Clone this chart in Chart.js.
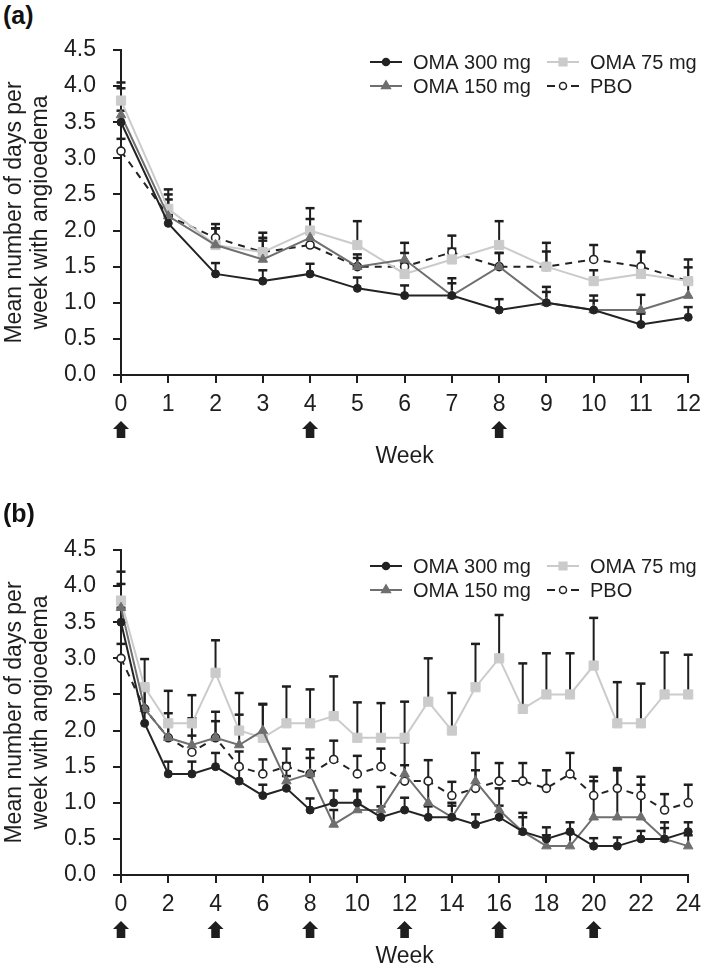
<!DOCTYPE html>
<html>
<head>
<meta charset="utf-8">
<script src="https://cdn.jsdelivr.net/npm/chart.js@4/dist/chart.umd.min.js"></script>
<style>
  html, body { margin: 0; padding: 0; background: #fff; overflow: hidden; }
  .panel { position: absolute; left: 0; }
  .tag { position: absolute; left: 3px; font: bold 25px "Liberation Sans", Arial, sans-serif; color: #111; line-height: 1; }
</style>
</head>
<body>
<div class="tag" style="top: 3px;">(a)</div>
<canvas id="chartA" class="panel" width="709" height="500" style="top: 0;"></canvas>
<div class="tag" style="top: 501px;">(b)</div>
<canvas id="chartB" class="panel" width="709" height="500" style="top: 500px;"></canvas>

<script>
// ---- dati ----
const seriesNames = ['OMA 300 mg', 'OMA 150 mg', 'OMA 75 mg', 'PBO'];

// pannello (a): settimane 0-12
const weeksA = [0, 1, 2, 3, 4, 5, 6, 7, 8, 9, 10, 11, 12];
const oma300A = [3.5, 2.1, 1.4, 1.3, 1.4, 1.2, 1.1, 1.1, 0.9, 1.0, 0.9, 0.7, 0.8];
const oma150A = [3.6, 2.2, 1.8, 1.6, 1.9, 1.5, 1.6, 1.1, 1.5, 1.0, 0.9, 0.9, 1.1];
const oma75A  = [3.8, 2.3, 1.8, 1.7, 2.0, 1.8, 1.4, 1.6, 1.8, 1.5, 1.3, 1.4, 1.3];
const pboA    = [3.1, 2.2, 1.9, 1.7, 1.8, 1.5, 1.5, 1.7, 1.5, 1.5, 1.6, 1.5, 1.3];
// estremo superiore delle barre di errore
const oma300UpA = [3.66, 2.23, 1.55, 1.45, 1.54, 1.35, 1.24, 1.27, 1.05, 1.22, 1.10, 0.85, 0.94];
const oma150UpA = [3.97, 2.43, 2.03, 1.86, 2.16, 1.67, 1.83, 1.34, 1.69, 1.15, 1.03, 1.11, 1.30];
const oma75UpA  = [4.05, 2.57, 2.03, 1.97, 2.31, 2.13, 1.55, 1.75, 2.13, 1.83, 1.45, 1.70, 1.49];
const pboUpA    = [3.27, 2.50, 2.09, 1.90, 1.97, 1.62, 1.69, 1.93, 1.69, 1.71, 1.80, 1.71, 1.60];
const doseWeeksA = [0, 4, 8];

// pannello (b): settimane 0-24
const weeksB = [0, 1, 2, 3, 4, 5, 6, 7, 8, 9, 10, 11, 12, 13, 14, 15, 16, 17, 18, 19, 20, 21, 22, 23, 24];
const oma300B = [3.5, 2.1, 1.4, 1.4, 1.5, 1.3, 1.1, 1.2, 0.9, 1.0, 1.0, 0.8, 0.9, 0.8, 0.8, 0.7, 0.8, 0.6, 0.5, 0.6, 0.4, 0.4, 0.5, 0.5, 0.6];
const oma150B = [3.7, 2.3, 1.9, 1.8, 1.9, 1.8, 2.0, 1.3, 1.4, 0.7, 0.9, 0.9, 1.4, 1.0, 0.8, 1.3, 0.9, 0.6, 0.4, 0.4, 0.8, 0.8, 0.8, 0.5, 0.4];
const oma75B  = [3.8, 2.6, 2.1, 2.1, 2.8, 2.0, 1.9, 2.1, 2.1, 2.2, 1.9, 1.9, 1.9, 2.4, 2.0, 2.6, 3.0, 2.3, 2.5, 2.5, 2.9, 2.1, 2.1, 2.5, 2.5];
const pboB    = [3.0, 2.3, 1.9, 1.7, 1.9, 1.5, 1.4, 1.5, 1.4, 1.6, 1.4, 1.5, 1.3, 1.3, 1.1, 1.2, 1.3, 1.3, 1.2, 1.4, 1.1, 1.2, 1.1, 0.9, 1.0];
const oma300UpB = [3.70, 2.30, 1.57, 1.57, 1.69, 1.48, 1.25, 1.37, 1.06, 1.17, 1.18, 0.95, 1.07, 0.95, 0.96, 0.84, 0.96, 0.86, 0.66, 0.73, 0.51, 0.52, 0.61, 0.73, 0.73];
const oma150UpB = [4.03, 2.55, 2.24, 2.17, 2.26, 2.22, 2.37, 1.55, 1.62, 0.90, 1.16, 1.22, 1.84, 1.28, 1.00, 1.69, 1.20, 0.80, 0.55, 0.58, 1.30, 1.48, 1.25, 0.65, 0.55];
const oma75UpB  = [4.20, 2.99, 2.55, 2.49, 3.25, 2.52, 2.36, 2.61, 2.57, 2.75, 2.39, 2.38, 2.40, 3.00, 2.52, 3.20, 3.60, 2.93, 3.07, 3.07, 3.56, 2.67, 2.65, 3.08, 3.05];
const pboUpB    = [3.20, 2.60, 2.10, 1.93, 2.13, 1.71, 1.60, 1.75, 1.74, 1.86, 1.65, 1.75, 1.52, 1.59, 1.29, 1.45, 1.55, 1.55, 1.45, 1.69, 1.36, 1.45, 1.36, 1.12, 1.25];
const doseWeeksB = [0, 4, 8, 12, 16, 20];

const yTicks = [0, 0.5, 1.0, 1.5, 2.0, 2.5, 3.0, 3.5, 4.0, 4.5];

// ---- stile ----
const FONT = '"Liberation Sans", Arial, sans-serif';
const INK = '#1e1e1e';
Chart.defaults.font.family = FONT;
Chart.defaults.color = INK;

const styles = [
  { color: '#232323', pointStyle: 'circle',   radius: 4,   fill: '#232323', dash: [] },
  { color: '#6f6f6f', pointStyle: 'triangle', radius: 5.5, fill: '#6f6f6f', dash: [] },
  { color: '#cbcbcb', pointStyle: 'rect',     radius: 6.5, fill: '#cbcbcb', dash: [] },
  { color: '#232323', pointStyle: 'circle',   radius: 4,   fill: '#ffffff', dash: [7, 6] }
];

function toPoints(weeks, values) {
  return weeks.map((w, i) => ({ x: w, y: values[i] }));
}

// barre di errore (solo verso l'alto)
const errorBars = {
  id: 'errorBars',
  beforeDatasetsDraw(chart) {
    const { ctx, scales: { x, y } } = chart;
    ctx.save();
    ctx.strokeStyle = INK;
    chart.data.datasets.forEach(ds => {
      ds.data.forEach((p, i) => {
        const px = x.getPixelForValue(p.x);
        const y0 = y.getPixelForValue(p.y);
        const y1 = y.getPixelForValue(ds.upper[i]);
        ctx.lineWidth = 2;
        ctx.beginPath();
        ctx.moveTo(px, y0);
        ctx.lineTo(px, y1);
        ctx.stroke();
        ctx.lineWidth = 2.5;
        ctx.beginPath();
        ctx.moveTo(px - 4.5, y1);
        ctx.lineTo(px + 4.5, y1);
        ctx.stroke();
      });
    });
    ctx.restore();
  }
};

// frecce delle somministrazioni sotto l'asse x
const doseArrows = {
  id: 'doseArrows',
  afterDraw(chart, args, opts) {
    const { ctx, scales: { x } } = chart;
    const top = chart.chartArea.bottom + 46;
    ctx.save();
    ctx.fillStyle = INK;
    opts.weeks.forEach(w => {
      const cx = x.getPixelForValue(w);
      ctx.beginPath();
      ctx.moveTo(cx, top);
      ctx.lineTo(cx + 8, top + 8);
      ctx.lineTo(cx + 4.3, top + 8);
      ctx.lineTo(cx + 4.3, top + 17);
      ctx.lineTo(cx - 4.3, top + 17);
      ctx.lineTo(cx - 4.3, top + 8);
      ctx.lineTo(cx - 8, top + 8);
      ctx.closePath();
      ctx.fill();
    });
    ctx.restore();
  }
};

function drawMarker(ctx, st, cx, cy, r) {
  ctx.save();
  ctx.fillStyle = st.fill;
  ctx.strokeStyle = st.color;
  ctx.lineWidth = 1.5;
  ctx.beginPath();
  if (st.pointStyle === 'circle') {
    ctx.arc(cx, cy, r, 0, Math.PI * 2);
  } else if (st.pointStyle === 'triangle') {
    ctx.moveTo(cx, cy - r);
    ctx.lineTo(cx + r * 0.87, cy + r * 0.5);
    ctx.lineTo(cx - r * 0.87, cy + r * 0.5);
    ctx.closePath();
  } else {
    const s = r * 0.7;
    ctx.rect(cx - s, cy - s, 2 * s, 2 * s);
  }
  ctx.fill();
  ctx.stroke();
  ctx.restore();
}

// legenda su due colonne dentro l'area del grafico
const legendOrder = [0, 2, 1, 3];
const legendGrid = {
  id: 'legendGrid',
  afterDraw(chart, args, opts) {
    const { ctx } = chart;
    legendOrder.forEach((idx, k) => {
      const st = styles[idx];
      const x0 = opts.cols[k % 2];
      const y0 = opts.top + Math.floor(k / 2) * opts.rowGap;
      ctx.save();
      ctx.strokeStyle = st.color;
      ctx.lineWidth = 2;
      ctx.setLineDash(st.dash.length ? [8, 16] : []);
      ctx.beginPath();
      ctx.moveTo(x0, y0);
      ctx.lineTo(x0 + 32, y0);
      ctx.stroke();
      ctx.restore();
      drawMarker(ctx, st, x0 + 16, y0, st.pointStyle === 'rect' ? 5.5 : (st.pointStyle === 'triangle' ? 5 : 3.5));
      ctx.save();
      ctx.fillStyle = INK;
      ctx.font = '20px ' + FONT;
      ctx.textBaseline = 'middle';
      ctx.fillText(seriesNames[idx], x0 + 43, y0 + 1);
      ctx.restore();
    });
  }
};

function makePanel(canvasId, weeks, series, uppers, maxWeek, step, doseWeeks, legendTop) {
  const datasets = series.map((vals, i) => ({
    label: seriesNames[i],
    data: toPoints(weeks, vals),
    upper: uppers[i],
    borderColor: styles[i].color,
    backgroundColor: styles[i].fill,
    borderWidth: 2,
    borderDash: styles[i].dash,
    pointStyle: styles[i].pointStyle,
    pointRadius: styles[i].radius,
    pointBackgroundColor: styles[i].fill,
    pointBorderColor: styles[i].color,
    pointBorderWidth: i === 3 ? 1.6 : 1,
    tension: 0,
    clip: false
  }));

  return new Chart(document.getElementById(canvasId), {
    type: 'line',
    data: { datasets },
    plugins: [errorBars, doseArrows, legendGrid],
    options: {
      responsive: false,
      animation: false,
      devicePixelRatio: 1,
      layout: { padding: { left: 0, right: 15, top: 50, bottom: 0 } },
      plugins: {
        legend: { display: false },
        tooltip: { enabled: false },
        doseArrows: { weeks: doseWeeks },
        legendGrid: { cols: [370, 547], top: legendTop, rowGap: 24 }
      },
      scales: {
        x: {
          type: 'linear',
          min: 0,
          max: maxWeek,
          ticks: { stepSize: step, padding: 8, font: { size: 23 }, color: INK },
          grid: { drawOnChartArea: false, drawTicks: true, tickLength: 8, color: INK, lineWidth: 2 },
          border: { color: INK, width: 2 },
          title: { display: true, text: 'Week', color: INK, font: { size: 23, lineHeight: '26px' }, padding: { top: 40, bottom: 30 } },
          afterFit(scale) { scale.height = 125; }
        },
        y: {
          type: 'linear',
          min: yTicks[0],
          max: yTicks[yTicks.length - 1],
          afterBuildTicks(scale) { scale.ticks = yTicks.map(v => ({ value: v })); },
          ticks: { padding: 17, font: { size: 23 }, color: INK, callback: v => Number(v).toFixed(1) },
          grid: { drawOnChartArea: false, drawTicks: true, tickLength: 8, color: INK, lineWidth: 2 },
          border: { color: INK, width: 2 },
          title: {
            display: true,
            text: ['Mean number of days per', 'week with angioedema'],
            color: INK,
            font: { size: 23, lineHeight: '26px' },
            padding: { top: 2, bottom: 0 }
          },
          afterFit(scale) { scale.width = 121; }
        }
      }
    }
  });
}

makePanel('chartA', weeksA, [oma300A, oma150A, oma75A, pboA], [oma300UpA, oma150UpA, oma75UpA, pboUpA], 12, 1, doseWeeksA, 62);
makePanel('chartB', weeksB, [oma300B, oma150B, oma75B, pboB], [oma300UpB, oma150UpB, oma75UpB, pboUpB], 24, 2, doseWeeksB, 66);
</script>
</body>
</html>
